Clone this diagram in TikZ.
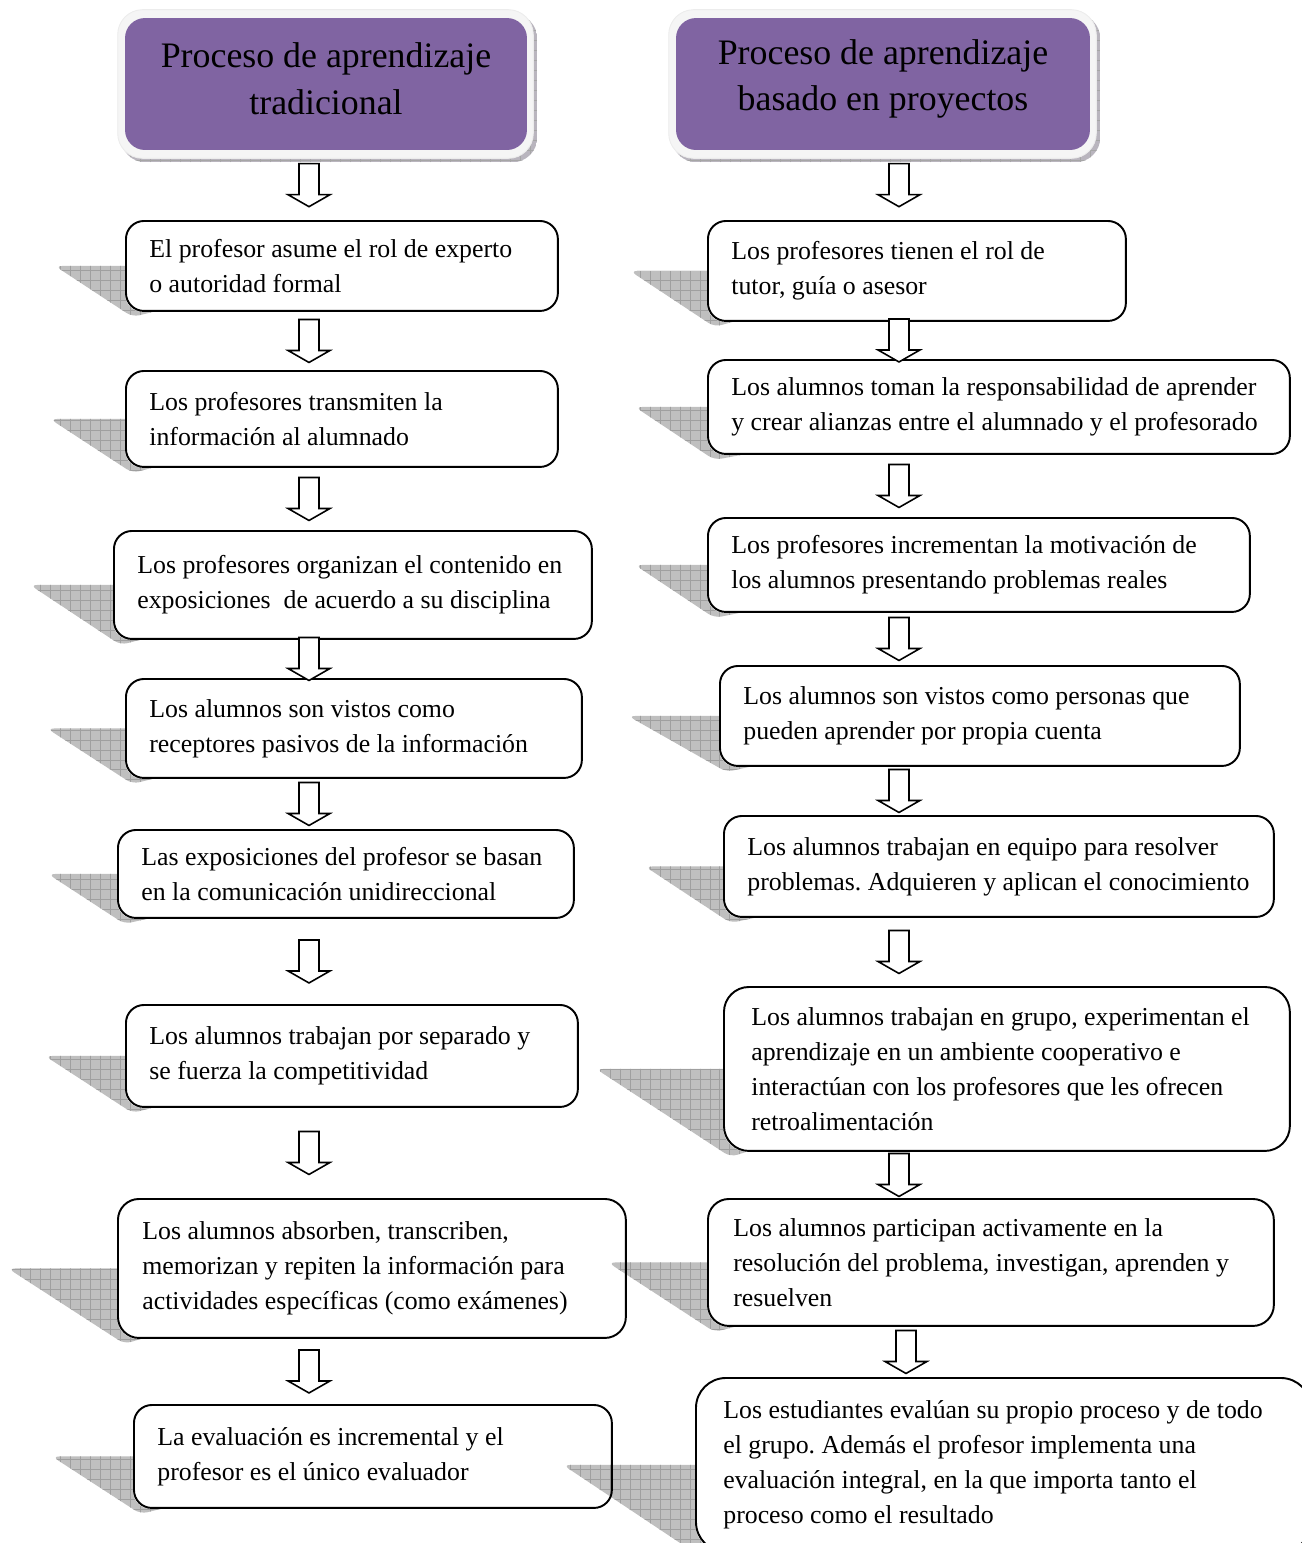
\documentclass[tikz,border=0pt]{standalone}
\usepackage{fontspec}
\setmainfont{Liberation Serif}
\usetikzlibrary{calc,backgrounds}
\pgfdeclarelayer{sombras}
\pgfsetlayers{background,sombras,main}
\definecolor{morado}{HTML}{8064A2}
\colorlet{sombram}{morado!25!gray!55}
\frenchspacing

% sombra en perspectiva detras de una caja (#3 = radio de la caja)
\newcommand{\sombra}[3]{%
  \begin{pgfonlayer}{sombras}
    \begin{scope}
      \clip[rounded corners=0.14cm] ([xshift=-#2]#1.west) -- (#1.center) -- ([xshift=0.15cm,yshift=-0.1cm]#1.south west) -- cycle;
      \fill[gray!50] ([xshift=-#2]#1.north west) rectangle ([yshift=-0.3cm]#1.south);
      \draw[gray!75, line width=0.4pt, step=0.2cm] ([xshift=-#2]#1.north west) grid ([yshift=-0.3cm]#1.south);
    \end{scope}
    \fill[white, rounded corners=#3] (#1.north west) rectangle (#1.south east);
  \end{pgfonlayer}}

% flecha de bloque entre dos cajas
\newcommand{\flecha}[3]{%
  \coordinate (mitad) at ($(#1.south)!.5!(#2.north)$);
  \draw[bloque, shift={(mitad -| #3)}] (-10,-21.5) -- (10,-21.5) -- (10,9.5) -- (21,9.5) -- (0,21.5) -- (-21,9.5) -- (-10,9.5) -- cycle;}

\begin{document}
\begin{tikzpicture}[x=0.02cm, y=-0.02cm,
    caja/.style={draw, line width=1.1pt, rounded corners=0.36cm, anchor=north west, inner sep=0pt},
    texto/.style={anchor=west, align=left, inner sep=0pt, font=\fontsize{14.7}{19.9}\selectfont},
    cabecera/.style={fill=morado, rounded corners=0.4cm, minimum height=2.64cm},
    titulo/.style={align=center, inner sep=0pt, font=\fontsize{20.4}{26.6}\selectfont},
    marco/.style={fill=gray!8, draw=gray!15, line width=0.5pt, rounded corners=0.5cm},
    bloque/.style={draw, fill=white, line width=0.9pt, line join=miter}]
  \useasboundingbox (0,0) rectangle (1302,1543);
  \clip (0,0) rectangle (1302,1543);
  \coordinate (colL) at (309,0);
  \coordinate (colR) at (899,0);
  \coordinate (colR2) at (906,0);

  % cabeceras
  \node[cabecera, minimum width=8.04cm] (hl) at (326,84) {};
  \node[titulo] (thl) at (326,79) {Proceso de aprendizaje\\tradicional};
  \node[cabecera, minimum width=8.28cm] (hr) at (883,84) {};
  \node[titulo] (thr) at (883,79) {Proceso de aprendizaje\\basado en proyectos};
  \begin{scope}[on background layer]
    \foreach \h in {hl,hr} {
      \begin{scope}
        \clip[rounded corners=0.5cm] ([shift={(-4,-4)}]\h.north west) rectangle ([shift={(10,12)}]\h.south east);
        \fill[sombram] ([shift={(-4,-4)}]\h.north west) rectangle ([shift={(10,12)}]\h.south east);
        \draw[gray!70, line width=0.3pt, step=0.2cm] ([shift={(-4,-4)}]\h.north west) grid ([shift={(10,12)}]\h.south east);
      \end{scope}
      \draw[marco] ([shift={(-7,-8)}]\h.north west) rectangle ([shift={(6,8)}]\h.south east);
    }
  \end{scope}

  % columna izquierda
  \node[caja, minimum width=8.64cm, minimum height=1.8cm] (l1) at (125,220) {};
  \node[texto] (tl1) at ([xshift=0.48cm]l1.west) {El profesor asume el rol de experto\\o autoridad formal};
  \node[caja, minimum width=8.64cm, minimum height=1.92cm] (l2) at (125,370) {};
  \node[texto] (tl2) at ([xshift=0.48cm]l2.west) {Los profesores transmiten la\\información al alumnado};
  \node[caja, minimum width=9.56cm, minimum height=2.16cm] (l3) at (113,530) {};
  \node[texto] (tl3) at ([xshift=0.48cm]l3.west) {Los profesores organizan el contenido en\\exposiciones~ de acuerdo a su disciplina};
  \node[caja, minimum width=9.12cm, minimum height=1.98cm] (l4) at (125,678) {};
  \node[texto] (tl4) at ([xshift=0.48cm]l4.west) {Los alumnos son vistos como\\receptores pasivos de la información};
  \node[caja, minimum width=9.12cm, minimum height=1.76cm] (l5) at (117,829) {};
  \node[texto] (tl5) at ([xshift=0.48cm]l5.west) {Las exposiciones del profesor se basan\\en la comunicación unidireccional};
  \node[caja, minimum width=9.04cm, minimum height=2.04cm] (l6) at (125,1004) {};
  \node[texto] (tl6) at ([xshift=0.48cm]l6.west) {Los alumnos trabajan por separado y\\se fuerza la competitividad};
  \node[caja, minimum width=10.16cm, minimum height=2.78cm, rounded corners=0.42cm] (l7) at (117,1198) {};
  \node[texto] (tl7) at ([xshift=0.5cm]l7.west) {Los alumnos absorben, transcriben,\\memorizan y repiten la información para\\actividades específicas (como exámenes)};
  \node[caja, minimum width=9.56cm, minimum height=2.06cm] (l8) at (133,1404) {};
  \node[texto] (tl8) at ([xshift=0.48cm]l8.west) {La evaluación es incremental y el\\profesor es el único evaluador};

  % columna derecha
  \node[caja, minimum width=8.36cm, minimum height=2cm] (r1) at (707,220) {};
  \node[texto] (tr1) at ([xshift=0.48cm]r1.west) {Los profesores tienen el rol de\\tutor, guía o asesor};
  \node[caja, minimum width=11.64cm, minimum height=1.88cm] (r2) at (707,359) {};
  \node[texto] (tr2) at ([xshift=0.48cm]r2.west) {Los alumnos toman la responsabilidad de aprender\\y crear alianzas entre el alumnado y el profesorado};
  \node[caja, minimum width=10.84cm, minimum height=1.88cm] (r3) at (707,517) {};
  \node[texto] (tr3) at ([xshift=0.48cm]r3.west) {Los profesores incrementan la motivación de\\los alumnos presentando problemas reales};
  \node[caja, minimum width=10.4cm, minimum height=2cm] (r4) at (719,665) {};
  \node[texto] (tr4) at ([xshift=0.48cm]r4.west) {Los alumnos son vistos como personas que\\pueden aprender por propia cuenta};
  \node[caja, minimum width=11cm, minimum height=2.02cm] (r5) at (723,815) {};
  \node[texto] (tr5) at ([xshift=0.48cm]r5.west) {Los alumnos trabajan en equipo para resolver\\problemas. Adquieren y aplican el conocimiento};
  \node[caja, minimum width=11.32cm, minimum height=3.28cm, rounded corners=0.5cm] (r6) at (723,986) {};
  \node[texto] (tr6) at ([xshift=0.56cm]r6.west) {Los alumnos trabajan en grupo, experimentan el\\aprendizaje en un ambiente cooperativo e\\interactúan con los profesores que les ofrecen\\retroalimentación};
  \node[caja, minimum width=11.32cm, minimum height=2.54cm, rounded corners=0.42cm] (r7) at (707,1198) {};
  \node[texto] (tr7) at ([xshift=0.52cm]r7.west) {Los alumnos participan activamente en la\\resolución del problema, investigan, aprenden y\\resuelven};
  \node[caja, minimum width=12.3cm, minimum height=3.48cm, rounded corners=0.6cm] (r8) at (695,1377) {};
  \node[texto] (tr8) at ([xshift=0.56cm]r8.west) {Los estudiantes evalúan su propio proceso y de todo\\el grupo. Además el profesor implementa una\\evaluación integral, en la que importa tanto el\\proceso como el resultado};

  % sombras
  \sombra{l1}{1.4cm}{0.36cm}  \sombra{l2}{1.5cm}{0.36cm}  \sombra{l3}{1.66cm}{0.36cm} \sombra{l4}{1.56cm}{0.36cm}
  \sombra{l5}{1.38cm}{0.36cm} \sombra{l6}{1.6cm}{0.36cm}  \sombra{l7}{2.18cm}{0.42cm} \sombra{l8}{1.62cm}{0.36cm}
  \sombra{r1}{1.54cm}{0.36cm} \sombra{r2}{1.44cm}{0.36cm} \sombra{r3}{1.44cm}{0.36cm} \sombra{r4}{1.82cm}{0.36cm}
  \sombra{r5}{1.56cm}{0.36cm} \sombra{r6}{2.54cm}{0.5cm}  \sombra{r7}{1.98cm}{0.42cm} \sombra{r8}{2.64cm}{0.6cm}

  % flechas
  \flecha{hl}{l1}{colL} \flecha{l1}{l2}{colL} \flecha{l2}{l3}{colL} \flecha{l3}{l4}{colL}
  \flecha{l4}{l5}{colL} \flecha{l5}{l6}{colL} \flecha{l6}{l7}{colL} \flecha{l7}{l8}{colL}
  \flecha{hr}{r1}{colR} \flecha{r1}{r2}{colR} \flecha{r2}{r3}{colR} \flecha{r3}{r4}{colR}
  \flecha{r4}{r5}{colR} \flecha{r5}{r6}{colR} \flecha{r6}{r7}{colR} \flecha{r7}{r8}{colR2}
\end{tikzpicture}
\end{document}
